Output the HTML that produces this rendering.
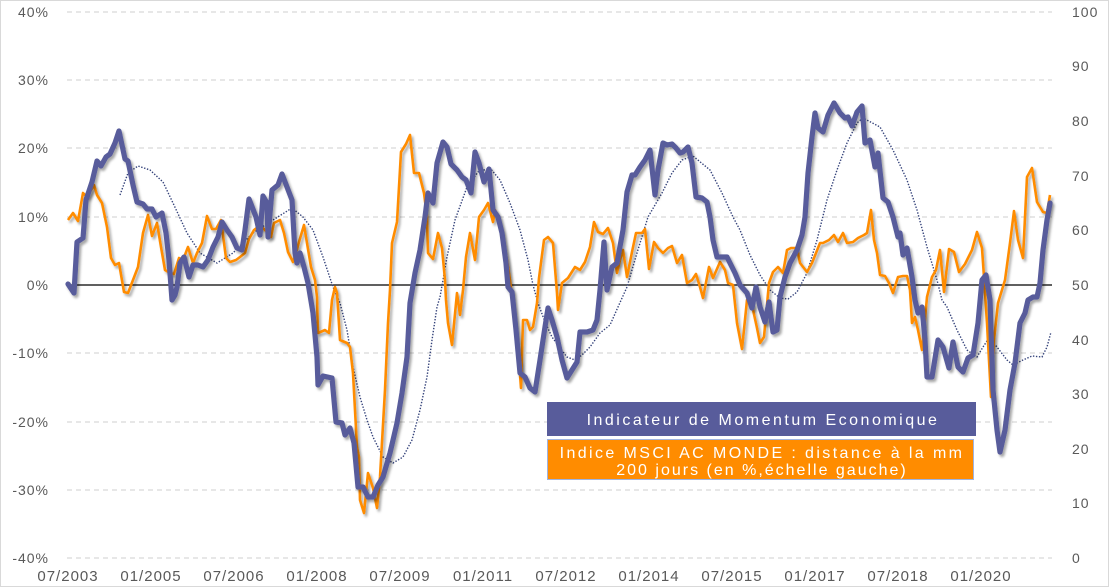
<!DOCTYPE html>
<html><head><meta charset="utf-8"><style>
html,body{margin:0;padding:0;background:#fff;}
svg{display:block;}
text{font-family:"Liberation Sans",sans-serif;}
</style></head><body>
<svg width="1110" height="588" viewBox="0 0 1110 588" xmlns="http://www.w3.org/2000/svg">
<defs>
<filter id="sh" x="-5%" y="-5%" width="110%" height="110%">
<feDropShadow dx="2" dy="2.5" stdDeviation="1.3" flood-color="#000" flood-opacity="0.35"/>
</filter>
</defs>
<rect x="0.5" y="0.5" width="1108" height="586" fill="#fff" stroke="#d9d9d9" stroke-width="1"/>
<g stroke="#cfcfcf" stroke-width="1" stroke-dasharray="5,4">
<line x1="67" y1="12" x2="1052" y2="12"/>
<line x1="67" y1="80" x2="1052" y2="80"/>
<line x1="67" y1="148" x2="1052" y2="148"/>
<line x1="67" y1="217" x2="1052" y2="217"/>
<line x1="67" y1="353" x2="1052" y2="353"/>
<line x1="67" y1="422" x2="1052" y2="422"/>
<line x1="67" y1="490" x2="1052" y2="490"/>
<line x1="67" y1="558" x2="1052" y2="558"/>
</g>
<line x1="67" y1="285" x2="1052" y2="285" stroke="#000" stroke-width="1.3"/>

<g fill="#595959" font-size="14" letter-spacing="1" text-anchor="end">
<text x="49" y="17">40%</text>
<text x="49" y="85">30%</text>
<text x="49" y="153">20%</text>
<text x="49" y="222">10%</text>
<text x="49" y="290">0%</text>
<text x="49" y="358">-10%</text>
<text x="49" y="427">-20%</text>
<text x="49" y="495">-30%</text>
<text x="49" y="563">-40%</text>
</g>
<g fill="#595959" font-size="14" letter-spacing="1">
<text x="1072" y="17">100</text>
<text x="1072" y="71">90</text>
<text x="1072" y="126">80</text>
<text x="1072" y="181">70</text>
<text x="1072" y="235">60</text>
<text x="1072" y="290">50</text>
<text x="1072" y="345">40</text>
<text x="1072" y="399">30</text>
<text x="1072" y="454">20</text>
<text x="1072" y="508">10</text>
<text x="1072" y="563">0</text>
</g>
<g fill="#595959" font-size="15" letter-spacing="1" text-anchor="middle">
<text x="68" y="581">07/2003</text>
<text x="151" y="581">01/2005</text>
<text x="234" y="581">07/2006</text>
<text x="317" y="581">01/2008</text>
<text x="400" y="581">07/2009</text>
<text x="483" y="581">01/2011</text>
<text x="566" y="581">07/2012</text>
<text x="649" y="581">01/2014</text>
<text x="732" y="581">07/2015</text>
<text x="815" y="581">01/2017</text>
<text x="898" y="581">07/2018</text>
<text x="981" y="581">01/2020</text>
</g>

<polyline fill="none" stroke="#34427a" stroke-width="1.4" stroke-dasharray="1.4,1.6" points="120,195 128,173 138,166 150,170 163,182 173,203 187,233 200,253 217,263 233,253 253,233 273,220 292,208 303,217 313,230 323,257 333,287 340,303 347,330 353,367 360,397 367,420 373,437 383,457 393,463 403,457 412,440 420,410 427,377 432,340 437,307 440,297 447,257 455,220 467,187 478,172 490,168 500,180 510,203 520,230 528,260 533,285 538,303 545,322 552,337 560,348 567,357 575,360 582,355 590,347 600,333 610,325 618,307 627,287 637,253 648,217 662,193 672,173 682,160 693,156 710,170 722,193 733,217 740,230 750,255 760,275 770,290 780,298 788,299 797,292 807,273 817,240 827,200 837,170 847,143 857,123 863,118 880,127 893,150 907,180 917,210 927,247 937,280 942,300 947,307 957,330 967,350 977,357 983,347 989,338 997,347 1007,360 1013,365 1023,360 1032,356 1042,357 1047,347 1051,332"/>

<polyline fill="none" stroke="#ff8c00" stroke-width="2.6" stroke-linejoin="round" filter="url(#sh)" points="68,220 73,213 78,221 83,193 87,197 94,185 97,195 102,203 107,227 111,258 115,265 119,263 124,292 128,293 133,280 138,267 143,233 148,215 152,236 157,223 161,247 165,270 170,273 174,274 179,258 183,260 188,247 193,263 197,253 202,243 207,216 212,229 216,229 221,220 226,258 230,262 236,260 240,257 245,253 249,239 254,230 258,227 263,228 267,232 271,237 274,223 280,220 284,233 288,252 293,262 296,253 299,242 304,225 307,243 311,267 315,280 317,297 318,333 325,330 329,333 332,300 335,287 337,293 340,340 347,343 350,347 353,373 357,447 359,457 360,500 364,513 368,473 373,488 377,508 380,477 385,390 388,323 390,290 392,243 397,222 401,152 406,144 410,135 414,173 419,173 424,193 427,217 428,253 433,259 438,233 442,248 445,280 446,300 448,323 452,345 457,293 460,315 463,290 466,257 470,233 475,260 479,217 484,210 488,203 493,222 495,210 498,217 502,233 507,260 510,280 515,320 518,347 521,388 523,320 527,320 530,330 533,327 537,303 539,278 542,255 544,240 548,237 553,243 557,293 558,310 562,283 568,278 575,267 580,270 585,262 590,247 594,222 598,232 603,234 608,228 613,243 617,273 620,260 623,250 627,277 632,252 636,233 642,233 645,229 649,269 654,242 658,248 663,253 668,248 672,246 677,263 682,255 687,283 692,280 696,274 700,287 703,298 709,267 713,278 720,262 725,270 728,283 733,285 737,323 742,349 747,300 752,305 757,328 760,343 764,337 769,283 773,272 778,267 783,273 787,250 791,248 797,248 800,263 807,272 812,263 820,243 823,243 829,240 834,235 838,242 843,233 847,243 853,242 858,238 864,235 867,233 871,210 874,240 877,253 880,275 885,276 889,283 893,293 898,277 903,276 907,276 910,290 912,323 915,317 918,330 922,350 924,330 927,297 932,277 936,270 940,250 944,292 949,249 954,252 959,272 965,264 972,250 977,232 982,248 984,277 987,323 991,397 994,340 998,303 1005,280 1010,243 1014,211 1018,240 1023,258 1027,177 1032,168 1037,202 1043,212 1047,213 1050,195"/>

<polyline fill="none" stroke="#585c9b" stroke-width="5.2" stroke-linejoin="round" stroke-linecap="round" filter="url(#sh)" points="68,284 74,293 77,242 83,238 86,200 92,182 97,161 101,166 106,157 110,154 115,143 119,131 125,159 128,161 133,185 137,202 143,204 147,209 152,209 156,217 162,213 166,233 169,260 172,300 175,295 177,287 180,263 184,257 189,277 193,265 198,265 203,267 208,260 213,247 218,237 222,222 227,230 232,237 237,248 242,250 245,230 249,199 256,217 260,235 263,196 267,203 268,237 272,190 278,185 282,174 287,187 292,200 295,253 297,263 300,253 304,267 308,283 313,313 317,357 318,385 323,376 332,378 336,422 342,423 345,435 350,428 354,443 358,487 363,487 368,497 373,497 378,485 383,477 390,453 397,423 402,393 407,357 410,303 415,273 420,250 425,217 428,193 433,203 437,163 443,142 447,147 451,164 457,170 462,177 466,180 471,193 475,152 479,163 484,182 489,169 493,210 498,217 502,233 506,263 508,287 512,292 516,330 520,373 525,377 530,388 535,392 540,360 545,327 548,308 552,320 557,337 562,360 567,378 572,370 577,362 580,332 587,332 593,330 597,320 600,290 604,242 607,290 612,267 617,263 623,230 627,192 632,175 635,175 640,167 645,160 650,150 655,195 658,170 663,143 667,145 672,144 676,148 680,153 683,152 688,147 692,163 696,197 702,198 707,202 710,217 713,240 717,257 722,257 727,257 731,265 735,273 740,285 747,293 752,308 756,287 760,307 765,322 769,302 773,332 777,330 780,297 785,277 790,263 797,250 802,235 805,217 808,173 812,137 815,113 818,128 823,132 828,115 834,103 840,113 845,118 848,117 852,126 857,112 862,106 865,143 870,140 875,167 878,153 883,198 888,202 893,217 898,237 900,233 903,255 907,248 912,277 915,300 918,313 922,307 925,340 927,377 932,377 938,340 943,347 949,368 953,342 958,367 963,372 968,358 973,355 978,323 982,280 986,275 990,300 993,390 997,430 1000,452 1005,430 1010,390 1015,363 1020,323 1025,313 1028,300 1033,297 1037,297 1040,283 1043,250 1047,220 1050,203"/>

<rect x="547" y="402" width="429" height="34" fill="#585c9b"/>
<text x="763" y="425" fill="#fff" font-size="16" letter-spacing="2.5" text-anchor="middle">Indicateur de Momentum Economique</text>
<rect x="547.5" y="439.5" width="426" height="40" fill="#ff8c00" stroke="#9fb3e0" stroke-width="1"/>
<text x="762" y="458" fill="#fff" font-size="16" letter-spacing="2.4" text-anchor="middle">Indice MSCI AC MONDE : distance à la mm</text>
<text x="762" y="475" fill="#fff" font-size="16" letter-spacing="2" text-anchor="middle">200 jours (en %,échelle gauche)</text>
</svg>
</body></html>
